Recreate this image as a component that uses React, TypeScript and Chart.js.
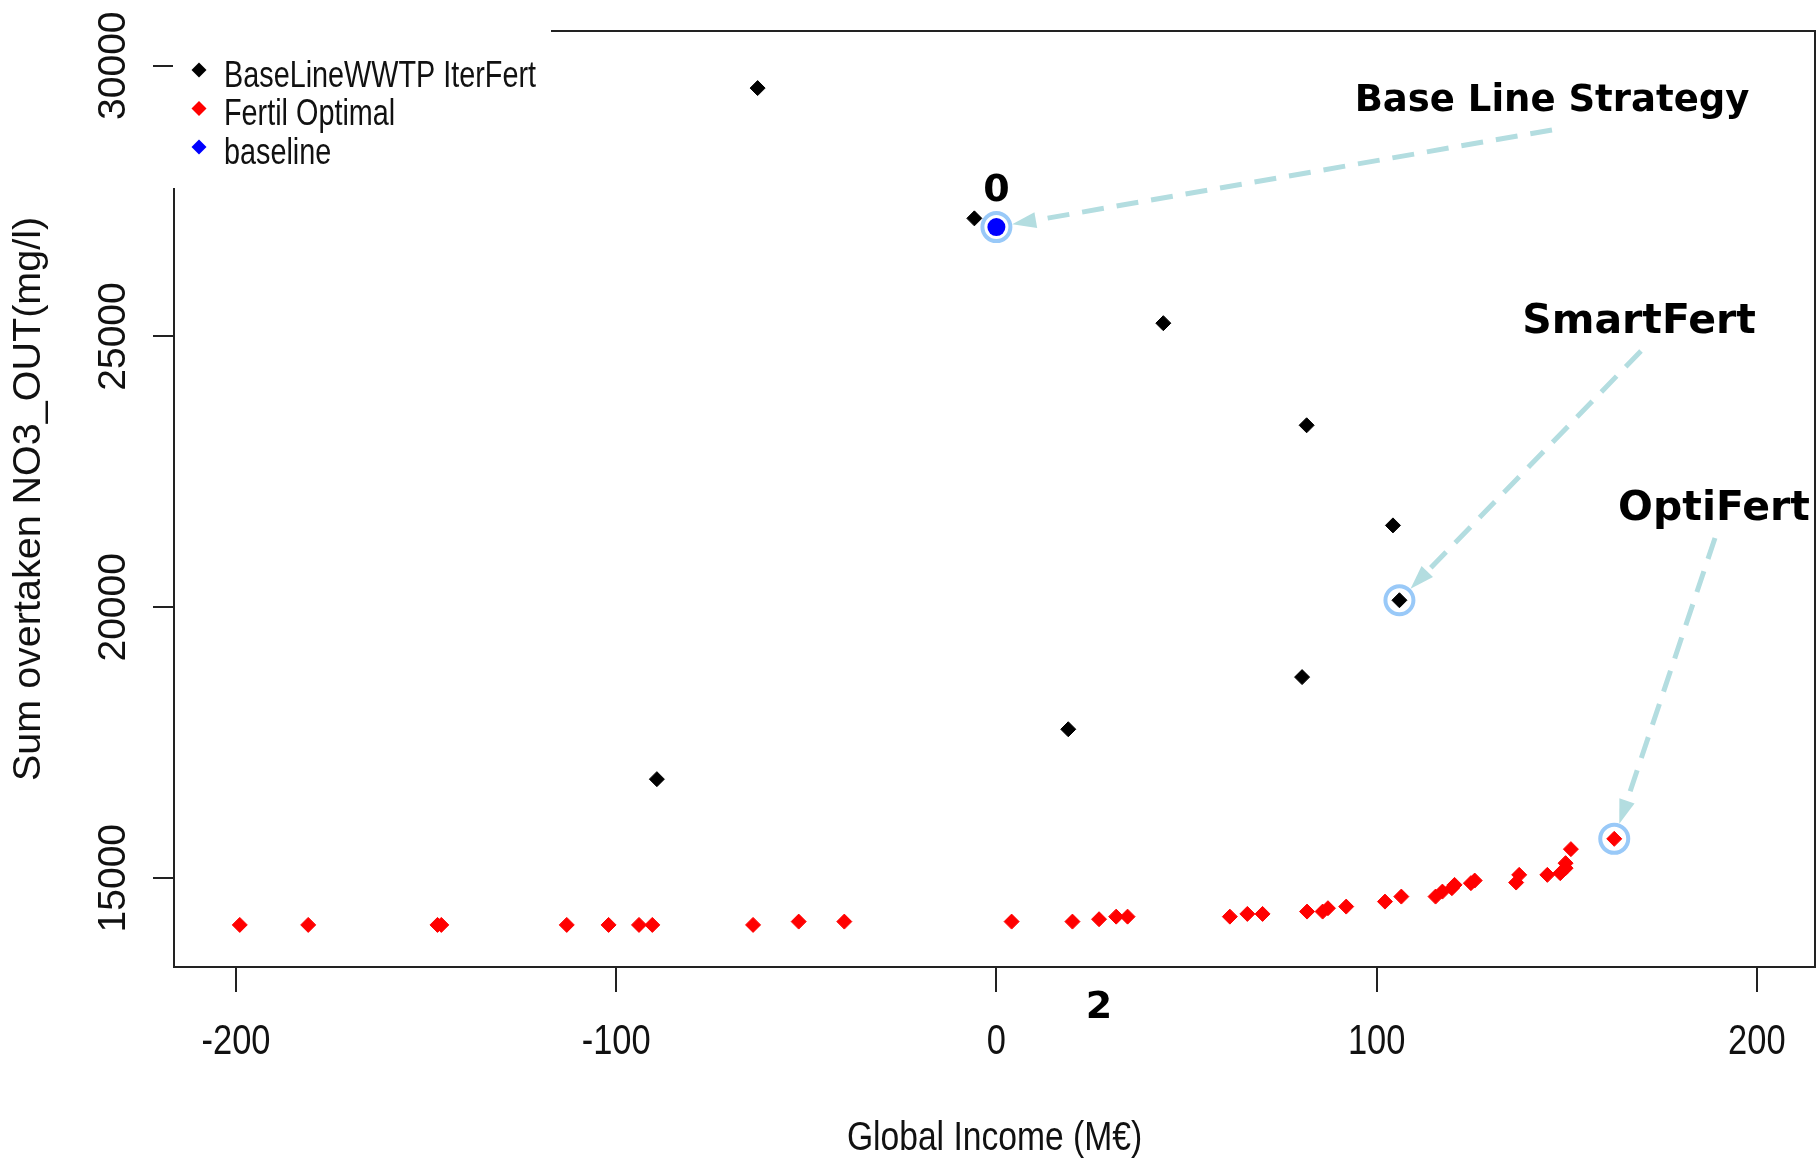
import React, { useEffect, useRef } from 'react';
import { Chart, registerables } from 'chart.js';

Chart.register(...registerables);

// ---------------- data ----------------
const seriesNames = ['BaseLineWWTP IterFert', 'Fertil Optimal', 'baseline'];
const seriesColors = ['#000000', '#ff0000', '#0000ff'];

const iterFertX = [-62.8, -5.8, 43.9, 81.6, 104.3, 106.0, 80.4, 18.9, -89.3];
const iterFertY = [29586, 27181, 25246, 23361, 21513, 20131, 18712, 17749, 16828];

const fertilX = [
  -199, -181, -147, -146, -113, -102, -94, -90.5, -64, -52, -40, 4, 20, 27, 31.5, 34.5,
  61.4, 66, 70, 81.7, 85.8, 87.2, 92, 102.2, 106.5, 115.5, 117.3, 119.8, 120.5, 124.8,
  125.8, 136.7, 137.5, 144.9, 148.3, 149.7, 149.7, 151.1, 162.5,
];
const fertilY = [
  14137, 14137, 14137, 14137, 14137, 14137, 14137, 14137, 14137, 14198, 14198, 14198, 14198,
  14242, 14290, 14290, 14290, 14340, 14340, 14383, 14383, 14445, 14475, 14567, 14660, 14660,
  14752, 14815, 14876, 14908, 14956, 14919, 15061, 15061, 15092, 15185, 15277, 15536, 15726,
];

const baselineX = [0];
const baselineY = [27020];

// highlighted strategies (rings + arrows)
const highlightNames = ['Base Line Strategy', 'SmartFert', 'OptiFert'];
const highlightX = [0, 106.0, 162.5];
const highlightY = [27020, 20131, 15726];

const xLimits = [-216.3, 215.3];
const yLimits = [13360, 30640];
const xTickValues = [-200, -100, 0, 100, 200];
const yTickValues = [15000, 20000, 25000, 30000];
const xTitle = 'Global Income (M€)';
const yTitle = 'Sum overtaken NO3_OUT(mg/l)';
const pointLabelTop = '0';
const pointLabelBottom = '2';
const pointLabelBottomX = 27;

// ---------------- styling ----------------
const REG = "'Liberation Sans', Arial, sans-serif";
const BOLD = "'DejaVu Sans', Verdana, sans-serif";
const NARROW_SCALE = 0.82;
const TEXT = '#111111';
const RING = '#99c9f8';
const ARROW = '#b3dde0';

// annotation layout (pixels)
const annotationLayout = [
  { textX: 1552, textY: 111, size: 37, startX: 1552, startY: 130 },
  { textX: 1639, textY: 333, size: 41, startX: 1641, startY: 351 },
  { textX: 1714, textY: 520, size: 41, startX: 1715, startY: 538 },
];

function toPoints(xs: number[], ys: number[]) {
  return xs.map((x, i) => ({ x, y: ys[i] }));
}

function diamond(ctx: CanvasRenderingContext2D, x: number, y: number, r: number, color: string) {
  ctx.beginPath();
  ctx.moveTo(x - r, y);
  ctx.lineTo(x, y - r);
  ctx.lineTo(x + r, y);
  ctx.lineTo(x, y + r);
  ctx.closePath();
  ctx.fillStyle = color;
  ctx.fill();
}

// text drawn horizontally condensed (emulates a narrow sans face)
function narrowText(
  ctx: CanvasRenderingContext2D, text: string, x: number, y: number, size: number,
  align: CanvasTextAlign, sx = NARROW_SCALE,
) {
  ctx.save();
  ctx.translate(x, y);
  ctx.scale(sx, 1);
  ctx.font = `${size}px ${REG}`;
  ctx.textAlign = align;
  ctx.textBaseline = 'alphabetic';
  ctx.fillStyle = TEXT;
  ctx.fillText(text, 0, 0);
  ctx.restore();
}

const framePlugin = {
  id: 'frame',
  beforeDatasetsDraw(chart: any) {
    const { ctx, chartArea: a } = chart;
    ctx.save();
    ctx.strokeStyle = '#222';
    ctx.lineWidth = 2;
    ctx.strokeRect(a.left, a.top, a.right - a.left, a.bottom - a.top);
    ctx.restore();
  },
};

const annotationPlugin = {
  id: 'annot',
  afterDatasetsDraw(chart: any) {
    const { ctx } = chart;
    const xs = chart.scales.x;
    const ys = chart.scales.y;
    ctx.save();
    highlightNames.forEach((name, i) => {
      const L = annotationLayout[i];
      const cx = xs.getPixelForValue(highlightX[i]);
      const cy = ys.getPixelForValue(highlightY[i]);
      const dx = L.startX - cx;
      const dy = L.startY - cy;
      const len = Math.hypot(dx, dy);
      const ux = dx / len;
      const uy = dy / len;
      const tipX = cx + ux * 16;
      const tipY = cy + uy * 16;
      const headLen = 24;
      const headW = 8;
      const baseX = tipX + ux * headLen;
      const baseY = tipY + uy * headLen;
      ctx.strokeStyle = ARROW;
      ctx.lineWidth = 5;
      ctx.setLineDash([22, 13]);
      ctx.beginPath();
      ctx.moveTo(L.startX, L.startY);
      ctx.lineTo(baseX, baseY);
      ctx.stroke();
      ctx.setLineDash([]);
      ctx.fillStyle = ARROW;
      ctx.beginPath();
      ctx.moveTo(tipX, tipY);
      ctx.lineTo(baseX - uy * headW, baseY + ux * headW);
      ctx.lineTo(baseX + uy * headW, baseY - ux * headW);
      ctx.closePath();
      ctx.fill();

      ctx.fillStyle = '#000';
      ctx.font = `bold ${L.size}px ${BOLD}`;
      ctx.textAlign = 'center';
      ctx.textBaseline = 'alphabetic';
      ctx.fillText(name, L.textX, L.textY);
    });

    // small point labels
    ctx.fillStyle = '#000';
    ctx.font = `bold 38px ${BOLD}`;
    ctx.textAlign = 'center';
    ctx.textBaseline = 'alphabetic';
    const bx = xs.getPixelForValue(baselineX[0]);
    const by = ys.getPixelForValue(baselineY[0]);
    ctx.fillText(pointLabelTop, bx, by - 26);
    const lx = xs.getPixelForValue(pointLabelBottomX);
    ctx.fillText(pointLabelBottom, lx, chart.chartArea.bottom + 51);
    ctx.restore();
  },
};

const overlayPlugin = {
  id: 'overlay',
  afterDraw(chart: any) {
    const { ctx, chartArea } = chart;
    const xs = chart.scales.x;
    const ys = chart.scales.y;
    ctx.save();
    // rotated y tick labels
    ctx.fillStyle = TEXT;
    ctx.font = `39px ${REG}`;
    ctx.textAlign = 'center';
    ctx.textBaseline = 'alphabetic';
    ys.ticks.forEach((t: any) => {
      const py = ys.getPixelForValue(t.value);
      ctx.save();
      ctx.translate(ys.right - 49, py);
      ctx.rotate(-Math.PI / 2);
      ctx.fillText(String(t.value), 0, 0);
      ctx.restore();
    });
    // x tick labels (condensed)
    xs.ticks.forEach((t: any) => {
      const px = xs.getPixelForValue(t.value);
      narrowText(ctx, String(t.value), px, xs.top + 87, 42, 'center');
    });
    // x title
    narrowText(ctx, xTitle, (chartArea.left + chartArea.right) / 2, xs.top + 183, 41, 'center');

    // legend with white background over the frame
    ctx.fillStyle = '#ffffff';
    ctx.fillRect(173, 0, 378, 188);
    seriesNames.forEach((name, i) => {
      const y = 70 + i * 38.5;
      diamond(ctx, 199, y, 7.5, seriesColors[i]);
      narrowText(ctx, name, 224, y + 16.5, 36, 'left', 0.8);
    });
    ctx.restore();
  },
};

export default function App() {
  const ref = useRef<HTMLCanvasElement | null>(null);

  useEffect(() => {
    if (!ref.current) return;
    const pointDs = (label: string, data: any[], color: string, order: number) => ({
      label,
      data,
      pointStyle: 'rectRot',
      pointRadius: 7.5,
      pointBorderWidth: 1,
      pointBackgroundColor: color,
      pointBorderColor: color,
      order,
    });
    const chart = new Chart(ref.current, {
      type: 'scatter',
      data: {
        datasets: [
          {
            label: 'rings',
            data: toPoints(highlightX, highlightY),
            pointStyle: 'circle',
            pointRadius: 14,
            pointBorderWidth: 4,
            pointBorderColor: RING,
            pointBackgroundColor: 'rgba(0,0,0,0)',
            order: 0,
          } as any,
          {
            label: seriesNames[2],
            data: toPoints(baselineX, baselineY),
            pointStyle: 'circle',
            pointRadius: 9,
            pointBorderWidth: 0,
            pointBackgroundColor: seriesColors[2],
            order: 1,
          } as any,
          pointDs(seriesNames[1], toPoints(fertilX, fertilY), seriesColors[1], 2) as any,
          pointDs(seriesNames[0], toPoints(iterFertX, iterFertY), seriesColors[0], 3) as any,
        ],
      },
      options: {
        responsive: false,
        animation: false,
        events: [],
        layout: { autoPadding: false, padding: { top: 31, right: 1, left: 0, bottom: 0 } },
        plugins: { legend: { display: false }, tooltip: { enabled: false } },
        scales: {
          x: {
            type: 'linear',
            min: xLimits[0],
            max: xLimits[1],
            afterBuildTicks: (s: any) => { s.ticks = xTickValues.map((v) => ({ value: v })); },
            afterFit: (s: any) => {
              s.height = 192;
              s.paddingLeft = 0; s.paddingRight = 0; s.paddingTop = 0; s.paddingBottom = 0;
            },
            border: { display: false },
            grid: { drawOnChartArea: false, drawTicks: true, tickLength: 25, color: '#222', lineWidth: 2 },
            ticks: { display: false },
            title: { display: false },
          },
          y: {
            type: 'linear',
            min: yLimits[0],
            max: yLimits[1],
            afterBuildTicks: (s: any) => { s.ticks = yTickValues.map((v) => ({ value: v })); },
            afterFit: (s: any) => {
              s.width = 174;
              s.paddingLeft = 0; s.paddingRight = 0; s.paddingTop = 0; s.paddingBottom = 0;
            },
            border: { display: false },
            grid: { drawOnChartArea: false, drawTicks: true, tickLength: 21, color: '#222', lineWidth: 2 },
            ticks: { display: false },
            title: {
              display: true,
              text: yTitle,
              color: TEXT,
              font: { family: REG, size: 39.5, lineHeight: 1.2 },
              padding: { top: 5, bottom: 0 },
            },
          },
        },
      },
      plugins: [framePlugin, annotationPlugin, overlayPlugin],
    } as any);
    return () => chart.destroy();
  }, []);

  return (
    <div style={{ position: 'absolute', left: 0, top: 0, width: 1816, height: 1159, background: '#fff' }}>
      <canvas ref={ref} width={1816} height={1159} style={{ display: 'block' }} />
    </div>
  );
}
